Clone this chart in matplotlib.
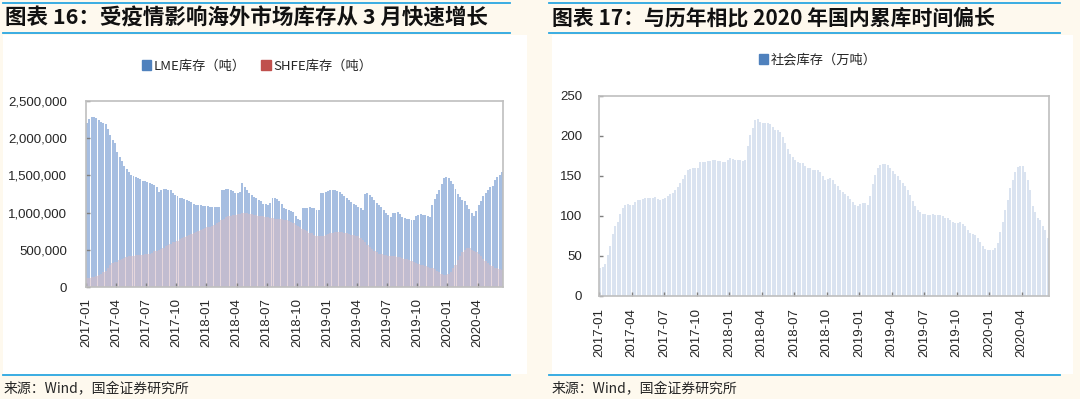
import numpy as np
import matplotlib.pyplot as plt
import matplotlib.ticker as mticker
from matplotlib.patches import Rectangle, Patch
from matplotlib.lines import Line2D

plt.rcParams['font.family'] = ['Noto Sans CJK SC', 'DejaVu Sans']

# --- dados semanais, 2017-01 a 2020-06 ---
tick_labels = ['2017-01', '2017-04', '2017-07', '2017-10',
               '2018-01', '2018-04', '2018-07', '2018-10',
               '2019-01', '2019-04', '2019-07', '2019-10',
               '2020-01', '2020-04']

# LME (mil toneladas)
lme_kt = [2200, 2260, 2290, 2280, 2270, 2240, 2220, 2200, 2190, 2120, 2040, 1980, 1930,
          1820, 1750, 1700, 1620, 1580, 1550, 1510, 1490, 1480, 1460, 1450, 1430, 1420,
          1410, 1400, 1380, 1370, 1350, 1280, 1300, 1320, 1320, 1310, 1300, 1270, 1230,
          1220, 1200, 1190, 1180, 1170, 1160, 1140, 1110, 1100, 1100, 1100, 1090, 1090,
          1090, 1080, 1080, 1080, 1070, 1070, 1300, 1310, 1320, 1320, 1300, 1290, 1270,
          1260, 1280, 1400, 1350, 1300, 1270, 1240, 1210, 1190, 1170, 1150, 1120, 1110,
          1100, 1130, 1190, 1200, 1180, 1150, 1110, 1060, 1050, 1030, 1020, 1010, 960,
          920, 900, 1060, 1060, 1060, 1070, 1060, 1060, 1040, 1030, 1260, 1270, 1280,
          1290, 1300, 1300, 1300, 1290, 1280, 1250, 1220, 1200, 1170, 1140, 1120, 1100,
          1080, 1060, 1030, 1250, 1260, 1230, 1210, 1170, 1130, 1100, 1070, 1040, 1000,
          970, 940, 990, 1000, 1010, 980, 940, 930, 920, 910, 900, 900, 950,
          970, 980, 970, 970, 960, 940, 1100, 1180, 1250, 1300, 1380, 1470, 1480,
          1460, 1430, 1380, 1320, 1250, 1210, 1170, 1160, 1100, 1050, 1000, 960, 1020,
          1100, 1160, 1220, 1270, 1310, 1350, 1360, 1440, 1480, 1500, 1550]

# SHFE (mil toneladas)
shfe_kt = [120, 120, 130, 140, 150, 160, 180, 200, 220, 250, 290, 320, 330,
           340, 360, 380, 390, 400, 410, 420, 420, 430, 430, 430, 430, 440,
           440, 450, 460, 480, 490, 500, 510, 530, 550, 560, 580, 600, 610,
           620, 640, 660, 670, 690, 700, 710, 720, 740, 750, 760, 780, 790,
           800, 810, 820, 840, 860, 880, 900, 920, 940, 950, 960, 970, 970,
           980, 980, 990, 990, 990, 980, 980, 970, 970, 960, 950, 950, 940,
           940, 930, 930, 920, 920, 910, 910, 900, 900, 890, 880, 860, 840,
           820, 800, 780, 760, 750, 730, 720, 700, 690, 680, 680, 690, 700,
           710, 720, 730, 740, 740, 740, 740, 730, 720, 710, 700, 700, 690,
           680, 660, 630, 600, 570, 540, 510, 490, 470, 450, 440, 430, 430,
           420, 420, 410, 410, 400, 400, 390, 380, 370, 360, 350, 340, 320,
           310, 300, 290, 280, 270, 260, 250, 240, 220, 200, 180, 160, 160,
           170, 200, 250, 300, 360, 420, 470, 500, 520, 520, 500, 480, 470,
           450, 420, 380, 350, 320, 300, 280, 260, 250, 240, 230]

# Estoque social (10 mil toneladas)
social = [35, 36, 40, 51, 62, 78, 88, 93, 102, 110, 114, 115, 114,
          114, 118, 120, 120, 121, 123, 122, 122, 123, 124, 121, 120, 121,
          123, 125, 127, 129, 133, 136, 141, 146, 151, 157, 159, 160, 160,
          160, 167, 168, 168, 169, 169, 170, 170, 169, 169, 168, 168, 170,
          172, 171, 170, 170, 170, 169, 170, 187, 201, 210, 220, 221, 218,
          216, 216, 216, 215, 211, 208, 207, 205, 199, 191, 184, 178, 174,
          170, 168, 166, 166, 163, 160, 160, 158, 158, 158, 155, 150, 145,
          146, 147, 145, 140, 137, 133, 130, 127, 125, 121, 118, 114, 112,
          115, 116, 116, 114, 125, 140, 151, 160, 164, 165, 165, 164, 160,
          156, 153, 150, 145, 141, 137, 133, 126, 119, 112, 108, 105, 103,
          102, 101, 101, 102, 101, 101, 101, 100, 98, 97, 95, 93, 91,
          91, 93, 90, 87, 82, 79, 77, 76, 72, 67, 62, 59, 58,
          57, 58, 60, 66, 80, 93, 108, 120, 135, 145, 155, 161, 163,
          162, 155, 145, 132, 112, 105, 98, 95, 88, 82, 72]

CREAM = '#FEF9EE'
LINE_BLUE = '#2AA7E1'
TXT = '#262626'
FRAME = '#BFBFBF'

W, H = 1080, 399
fig = plt.figure(figsize=(W / 100, H / 100), dpi=100, facecolor=CREAM)


def fx(px):
    return px / W


def fy(py):
    return 1 - py / H


# fundos brancos e linhas azuis
for x0, x1 in [(3, 527), (552, 1073)]:
    fig.patches.append(Rectangle((fx(x0), fy(374)), fx(x1 - x0), (374 - 35) / H,
                                 transform=fig.transFigure, facecolor='white',
                                 edgecolor='none', zorder=-5))
for x0, x1 in [(3, 510), (549, 1060)]:
    for yy in (3, 33, 375):
        fig.lines.append(Line2D([fx(x0), fx(x1)], [fy(yy), fy(yy)],
                                transform=fig.transFigure, color=LINE_BLUE, lw=1.3))


def estilo_eixo(ax, n, xpad, ypad):
    ax.set_xlim(-0.5, n - 0.5)
    ax.set_xticks(np.arange(len(tick_labels)) * 13 - 0.5)
    ax.set_xticklabels(tick_labels, rotation=90, fontsize=9.5, color=TXT,
                       family=['Liberation Sans'])
    for lbl in ax.get_yticklabels():
        lbl.set_family(['Liberation Sans'])
    ax.tick_params(axis='both', direction='in', length=3, color='#7F7F7F', width=1)
    ax.tick_params(axis='x', pad=xpad)
    ax.tick_params(axis='y', pad=ypad, labelsize=9.5, labelcolor=TXT)
    for s in ax.spines.values():
        s.set_color(FRAME)
        s.set_linewidth(1.2)
    ax.set_facecolor('white')


# --- grafico 16 ---
n = len(lme_kt)
x = np.arange(n)
ax1 = fig.add_axes([fx(86), fy(287), fx(503 - 86), (287 - 101) / H])
ax1.bar(x, np.array(lme_kt) * 1000, width=0.85, color='#A6BEE1', linewidth=0)
ax1.bar(x, np.array(shfe_kt) * 1000, width=1.0, color='#D4BCC6', alpha=0.6, linewidth=0)
ax1.set_ylim(0, 2500000)
ax1.set_yticks(np.arange(0, 2500001, 500000))
ax1.yaxis.set_major_formatter(mticker.FuncFormatter(lambda v, _: '{:,.0f}'.format(v)))
estilo_eixo(ax1, n, 8, 13.5)

fig.legend(handles=[Patch(color='#4F81BD', label='LME库存（吨）'),
                    Patch(color='#C0504D', label='SHFE库存（吨）')],
           loc='center', bbox_to_anchor=(fx(257), fy(66)), ncol=2, frameon=False,
           fontsize=9.5, handlelength=0.7, handleheight=0.7, handletextpad=0.2,
           columnspacing=1.2, labelcolor=TXT)

# --- grafico 17 ---
ax2 = fig.add_axes([fx(599), fy(296), fx(1049 - 599), (296 - 96) / H])
ax2.bar(np.arange(len(social)), social, width=0.92, color='#DAE3F0', linewidth=0)
ax2.set_ylim(0, 250)
ax2.set_yticks(np.arange(0, 251, 50))
estilo_eixo(ax2, len(social), 8.5, 12)

fig.legend(handles=[Patch(color='#4F81BD', label='社会库存（万吨）')],
           loc='center', bbox_to_anchor=(fx(818), fy(60)), frameon=False,
           fontsize=9.5, handlelength=0.7, handleheight=0.7, handletextpad=0.2,
           labelcolor=TXT)

# titulos e fontes
fig.text(fx(5), fy(18), '图表 16：受疫情影响海外市场库存从 3 月快速增长',
         fontsize=15.5, fontweight='bold', color='#111111', va='center', ha='left')
fig.text(fx(552), fy(18), '图表 17：与历年相比 2020 年国内累库时间偏长',
         fontsize=15, fontweight='bold', color='#111111', va='center', ha='left')
fig.text(fx(4), fy(389), '来源：Wind，国金证券研究所', fontsize=10, color=TXT,
         va='center', ha='left')
fig.text(fx(552), fy(389), '来源：Wind，国金证券研究所', fontsize=10, color=TXT,
         va='center', ha='left')

fig.savefig('out.png', dpi=100, facecolor=CREAM)
